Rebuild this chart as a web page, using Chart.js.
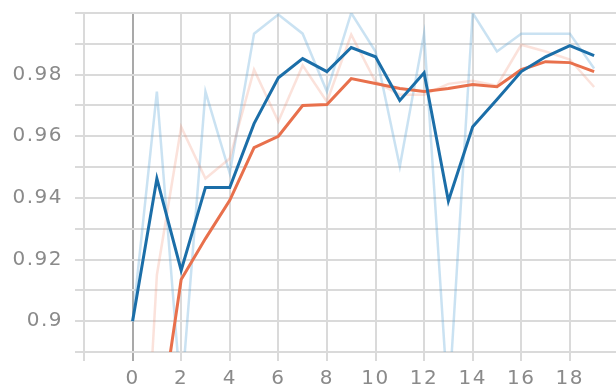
<!DOCTYPE html>
<html lang="en">
<head>
    <meta charset="UTF-8">
    <title>Accuracy</title>
    <script src="https://cdn.jsdelivr.net/npm/chart.js"></script>
    <style>
        body {
            margin: 0;
            background: #fff;
        }
        .chart-container {
            position: relative;
            width: 616px;
            height: 390px;
        }
    </style>
</head>
<body>
    <div class="chart-container">
        <canvas id="accChart" width="616" height="390"></canvas>
    </div>

    <script>
        const steps = [0, 1, 2, 3, 4, 5, 6, 7, 8, 9, 10, 11, 12, 13, 14, 15, 16, 17, 18, 19];

        // blue run
        const blueRaw = [0.900, 0.9745, 0.875, 0.9745, 0.948, 0.9933, 0.9995, 0.9933, 0.9745, 1.000,
                         0.9875, 0.9502, 0.9933, 0.872, 1.000, 0.9875, 0.9933, 0.9933, 0.9933, 0.982];
        const blueSmooth = [0.900, 0.9463, 0.9165, 0.9434, 0.9434, 0.9641, 0.979, 0.9852, 0.981, 0.9888,
                            0.9858, 0.9716, 0.9806, 0.939, 0.9631, 0.9719, 0.981, 0.9858, 0.9894, 0.9862];

        // orange run
        const orangeRaw = [0.776, 0.915, 0.963, 0.9463, 0.9528, 0.9816, 0.9648, 0.983, 0.9712, 0.993,
                           0.9777, 0.9735, 0.9735, 0.977, 0.978, 0.9764, 0.9897, 0.9875, 0.9849, 0.976];
        const orangeSmooth = [0.776, 0.860, 0.9135, 0.9268, 0.9392, 0.9563, 0.960, 0.970, 0.9703, 0.9787,
                              0.9771, 0.9755, 0.9745, 0.9755, 0.9768, 0.9761, 0.9816, 0.9842, 0.9839, 0.981];

        const xTicks = [-2, 0, 2, 4, 6, 8, 10, 12, 14, 16, 18];
        const yTicks = [0.89, 0.90, 0.91, 0.92, 0.93, 0.94, 0.95, 0.96, 0.97, 0.98, 0.99, 1.00];
        const yLabels = ['0.9', '0.92', '0.94', '0.96', '0.98'];

        function toPoints(values) {
            return steps.map((s, i) => ({ x: s, y: values[i] }));
        }

        const spacing = {
            id: 'spacing',
            beforeDraw(chart) {
                chart.ctx.letterSpacing = '1.5px';
            }
        };

        const ctx = document.getElementById('accChart').getContext('2d');
        new Chart(ctx, {
            type: 'line',
            data: {
                datasets: [
                    { data: toPoints(blueSmooth), borderColor: '#1b6ea8', borderWidth: 3 },
                    { data: toPoints(orangeSmooth), borderColor: '#e8704c', borderWidth: 3 },
                    { data: toPoints(orangeRaw), borderColor: 'rgba(240, 140, 110, 0.25)', borderWidth: 2.5 },
                    { data: toPoints(blueRaw), borderColor: 'rgba(90, 165, 215, 0.32)', borderWidth: 2.5 }
                ]
            },
            options: {
                responsive: false,
                animation: false,
                events: [],
                layout: { padding: { top: 13, left: 0, right: 0, bottom: 0 } },
                elements: {
                    point: { radius: 0 },
                    line: { tension: 0 }
                },
                plugins: {
                    legend: { display: false },
                    tooltip: { enabled: false }
                },
                scales: {
                    x: {
                        type: 'linear',
                        min: -2,
                        max: 19.9,
                        afterBuildTicks: scale => { scale.ticks = xTicks.map(v => ({ value: v })); },
                        afterFit: scale => {
                            scale.height = 38;
                            scale.paddingLeft = 0;
                            scale.paddingRight = 0;
                        },
                        border: { display: false },
                        grid: {
                            color: c => (c.tick && c.tick.value === 0) ? '#a9a9a9' : '#dadada',
                            lineWidth: 2,
                            tickLength: 9
                        },
                        ticks: {
                            autoSkip: false,
                            maxRotation: 0,
                            padding: 6,
                            color: '#8a8a8a',
                            font: { family: 'DejaVu Sans', size: 20 },
                            callback: v => v < 0 ? '' : String(v)
                        }
                    },
                    y: {
                        min: 0.89,
                        max: 1.0,
                        afterBuildTicks: scale => { scale.ticks = yTicks.map(v => ({ value: v })); },
                        afterFit: scale => {
                            scale.width = 84;
                            scale.paddingTop = 0;
                            scale.paddingBottom = 0;
                        },
                        border: { display: false },
                        grid: {
                            color: '#dadada',
                            lineWidth: 2,
                            tickLength: 9
                        },
                        ticks: {
                            padding: 12,
                            color: '#8a8a8a',
                            font: { family: 'DejaVu Sans', size: 20 },
                            callback: v => {
                                const s = String(Math.round(v * 100) / 100);
                                return yLabels.includes(s) ? s : '';
                            }
                        }
                    }
                }
            },
            plugins: [spacing]
        });
    </script>
</body>
</html>
